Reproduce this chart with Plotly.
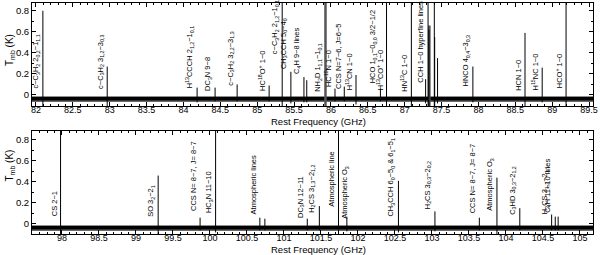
import plotly.graph_objects as go

# ---------------- data ----------------
top_range = [81.946, 89.554]
bot_range = [97.595, 105.176]
top_yrange = [-0.105, 0.874]
bot_yrange = [-0.095, 0.883]

baseline = -0.032
noise_core = 0.02
noise_halo = 0.034

# spectral lines: rest frequency (GHz), peak (K), dip below baseline (K)
top_freq = [82.0935, 82.966, 84.185, 84.429, 84.728, 85.162, 85.339, 85.457, 85.634, 85.672,
            86.055, 86.181, 86.340, 86.671, 86.754, 87.091, 87.284, 87.317, 87.329, 87.402,
            87.407, 87.446, 87.925, 88.632, 88.865, 89.1885]
top_peak = [0.80, 0.27, 0.07, 0.07, 0.10, 0.09, 1.20, 0.22, 0.17, 0.14,
            0.06, 0.08, 0.19, 0.06, 1.20, 1.20, 0.15, 1.20, 0.62, 1.20,
            0.55, 0.35, 0.27, 0.59, 0.26, 1.20]
top_dip = [-0.11, -0.11, -0.07, -0.06, -0.06, -0.06, -0.11, -0.08, -0.07, -0.07,
           -0.06, -0.06, -0.09, -0.06, -0.11, -0.11, -0.08, -0.11, -0.11, -0.11,
           -0.11, -0.08, -0.07, -0.11, -0.07, -0.11]

top_gray_freq = [85.926, 87.335]
top_gray_peak = [1.20, 0.66]
top_gray_dip = [-0.11, -0.11]

bot_freq = [97.981, 99.300, 99.8665, 100.076, 100.674, 100.742, 101.315, 101.478, 101.737,
            101.850, 102.547, 103.040, 103.640, 103.878, 104.187, 104.617, 104.666, 104.705]
bot_peak = [1.20, 0.46, 0.06, 1.20, 0.06, 0.05, 0.05, 0.17, 1.20,
            0.07, 0.41, 0.12, 0.06, 0.44, 0.15, 0.09, 0.07, 0.07]
bot_dip = [-0.10, -0.10, -0.06, -0.08, -0.06, -0.06, -0.06, -0.06, -0.10,
           -0.07, -0.08, -0.07, -0.06, -0.10, -0.06, -0.06, -0.06, -0.06]

# line labels: text, labelled frequency, label start height (K)
top_labels = [
    "c−C<sub>3</sub>H<sub>2</sub> 2<sub>0,2</sub>−1<sub>1,1</sub>",
    "c−C<sub>3</sub>H<sub>2</sub> 3<sub>1,2</sub>−3<sub>0,3</sub>",
    "H<sup>13</sup>CCCH 2<sub>1,2</sub>−1<sub>0,1</sub>",
    "DC<sub>3</sub>N 9−8",
    "c−C<sub>3</sub>H<sub>2</sub> 3<sub>2,2</sub>−3<sub>1,3</sub>",
    "HC<sup>18</sup>O<sup>+</sup> 1−0",
    "c−C<sub>3</sub>H<sub>2</sub> 2<sub>1,2</sub>−1<sub>0,1</sub>",
    "CH<sub>3</sub>CCH 5<sub>0</sub>−4<sub>0</sub>",
    "C<sub>4</sub>H 9−8 lines",
    "NH<sub>2</sub>D 1<sub>1,1</sub>−1<sub>0,1</sub>",
    "HC<sup>15</sup>N 1−0",
    "CCS N=7−6, J=6−5",
    "H<sup>13</sup>CN 1−0",
    "HCO 1<sub>0,1</sub>−0<sub>0,0</sub> 3/2−1/2",
    "H<sup>13</sup>CO<sup>+</sup> 1−0",
    "HN<sup>13</sup>C 1−0",
    "CCH 1−0 hyperfine lines",
    "HNCO 4<sub>0,4</sub>−3<sub>0,3</sub>",
    "HCN 1−0",
    "H<sup>15</sup>NC 1−0",
    "HCO<sup>+</sup> 1−0",
]
top_label_freq = [82.0935, 82.966, 84.185, 84.429, 84.728, 85.162, 85.339, 85.457, 85.634, 85.926,
                  86.055, 86.181, 86.340, 86.671, 86.754, 87.091, 87.300, 87.925, 88.632, 88.865,
                  89.1885]
top_label_base = [0.05, 0.05, 0.05, 0.03, 0.08, 0.03, 0.38, 0.24, 0.19, 0.02,
                  0.07, 0.05, 0.03, 0.10, 0.03, 0.02, 0.11, 0.07, 0.03, 0.03,
                  0.05]

bot_labels = [
    "CS 2−1",
    "SO 3<sub>2</sub>−2<sub>1</sub>",
    "CCS N= 8−7, J= 8−7",
    "HC<sub>3</sub>N 11−10",
    "Atmospheric lines",
    "DC<sub>3</sub>N 12−11",
    "H<sub>2</sub>CS 3<sub>1,3</sub>−2<sub>1,2</sub>",
    "Atmospheric line",
    "Atmospheric O<sub>3</sub>",
    "CH<sub>3</sub>CCH 6<sub>0</sub>−5<sub>0</sub> & 6<sub>1</sub>−5<sub>1</sub>",
    "H<sub>2</sub>CS 3<sub>0,3</sub>−2<sub>0,2</sub>",
    "CCS N= 8−7, J= 8−7",
    "Atmospheric O<sub>3</sub>",
    "C<sub>3</sub>HD 3<sub>0,3</sub>−2<sub>1,2</sub>",
    "H<sub>2</sub>CS 3<sub>1,2</sub>−2<sub>1,1</sub>",
    "C<sub>4</sub>H 11−10 lines",
]
bot_label_freq = [97.981, 99.300, 99.8665, 100.076, 100.674, 101.315, 101.478, 101.737, 101.737,
                  102.547, 103.040, 103.640, 103.878, 104.187, 104.617, 104.666]
bot_label_base = [0.06, 0.06, 0.11, 0.09, 0.08, 0.05, 0.10, 0.15, 0.04,
                  0.06, 0.13, 0.09, 0.12, 0.08, 0.08, 0.10]
# which labels sit on the right-hand side of their line
bot_label_right = [False, False, False, False, False, False, False, False, True,
                   False, False, False, False, False, False, False]

FONT = "Liberation Sans, Arial, sans-serif"


def segments(freqs, lows, highs):
    xs, ys = [], []
    for f, lo, hi in zip(freqs, lows, highs):
        xs += [f, f, None]
        ys += [lo, hi, None]
    return xs, ys


fig = go.Figure()


def add_panel(xr, xa, ya, freqs, peaks, dips, gfreq=None, gpeak=None, gdip=None):
    # noise halo and core
    for half, col in ((noise_halo, "#6a6a6a"), (noise_core, "#000000")):
        fig.add_trace(go.Scatter(
            x=[xr[0], xr[1], xr[1], xr[0], xr[0]],
            y=[baseline - half, baseline - half, baseline + half * 0.6, baseline + half * 0.6, baseline - half],
            fill="toself", fillcolor=col, line=dict(width=0), mode="lines",
            xaxis=xa, yaxis=ya, hoverinfo="skip", showlegend=False))
    if gfreq:
        gx, gy = segments(gfreq, gdip, gpeak)
        fig.add_trace(go.Scatter(x=gx, y=gy, mode="lines", line=dict(color="#555555", width=2.5),
                                 xaxis=xa, yaxis=ya, hoverinfo="skip", showlegend=False))
    sx, sy = segments(freqs, dips, peaks)
    fig.add_trace(go.Scatter(x=sx, y=sy, mode="lines", line=dict(color="#000000", width=1),
                             xaxis=xa, yaxis=ya, hoverinfo="skip", showlegend=False))


add_panel(top_range, "x", "y", top_freq, top_peak, top_dip, top_gray_freq, top_gray_peak, top_gray_dip)
add_panel(bot_range, "x2", "y2", bot_freq, bot_peak, bot_dip)

annotations = []
for txt, f, b in zip(top_labels, top_label_freq, top_label_base):
    annotations.append(dict(x=f, y=b, xref="x", yref="y", text=txt, textangle=-90,
                            showarrow=False, xanchor="right", yanchor="bottom", xshift=-1,
                            borderpad=0, font=dict(family=FONT, size=7.5, color="black")))
for txt, f, b, right in zip(bot_labels, bot_label_freq, bot_label_base, bot_label_right):
    annotations.append(dict(x=f, y=b, xref="x2", yref="y2", text=txt, textangle=-90,
                            showarrow=False, xanchor="left" if right else "right", yanchor="bottom",
                            xshift=1 if right else -1,
                            borderpad=0, font=dict(family=FONT, size=7.5, color="black")))

# axis titles
for ypos in (0.797, 0.297):
    annotations.append(dict(x=-0.039, y=ypos, xref="paper", yref="paper", text="T<sub>mb</sub> (K)",
                            textangle=-90, showarrow=False, xanchor="center", yanchor="middle",
                            font=dict(family=FONT, size=10, color="black")))
for ypos in (0.487, -0.066):
    annotations.append(dict(x=0.51, y=ypos, xref="paper", yref="paper", text="Rest Frequency (GHz)",
                            showarrow=False, xanchor="center", yanchor="middle",
                            font=dict(family=FONT, size=9.5, color="black")))

xcommon = dict(showline=True, linecolor="black", linewidth=1, mirror="ticks", ticks="inside",
               ticklen=4, tickcolor="black", dtick=0.5, showgrid=False, zeroline=False,
               ticklabelstandoff=-5,
               tickfont=dict(family=FONT, size=9, color="black"),
               minor=dict(ticks="inside", ticklen=2, dtick=0.1, tickcolor="black", showgrid=False))
ycommon = dict(showline=True, linecolor="black", linewidth=1, mirror="ticks", ticks="inside",
               ticklen=4, tickcolor="black", tickvals=[0, 0.2, 0.4, 0.6, 0.8],
               ticktext=["0", "0.2", "0.4", "0.6", "0.8"], showgrid=False, zeroline=False,
               tickfont=dict(family=FONT, size=9.5, color="black"),
               minor=dict(ticks="inside", ticklen=2, tickvals=[-0.1, 0.1, 0.3, 0.5, 0.7],
                          tickcolor="black", showgrid=False))

fig.update_layout(
    width=600, height=255,
    margin=dict(l=32, r=7, t=3, b=21),
    paper_bgcolor="white", plot_bgcolor="white",
    showlegend=False,
    xaxis=dict(domain=[0, 1], range=top_range, anchor="y", **xcommon),
    yaxis=dict(domain=[0.554, 1], range=top_yrange, anchor="x", **ycommon),
    xaxis2=dict(domain=[0, 1], range=bot_range, anchor="y2", **xcommon),
    yaxis2=dict(domain=[0, 0.446], range=bot_yrange, anchor="x2", **ycommon),
    annotations=annotations,
)

fig.write_html("out.html", config={"displayModeBar": False},
               post_script="document.body.style.margin='0px';document.body.style.overflow='hidden';")
